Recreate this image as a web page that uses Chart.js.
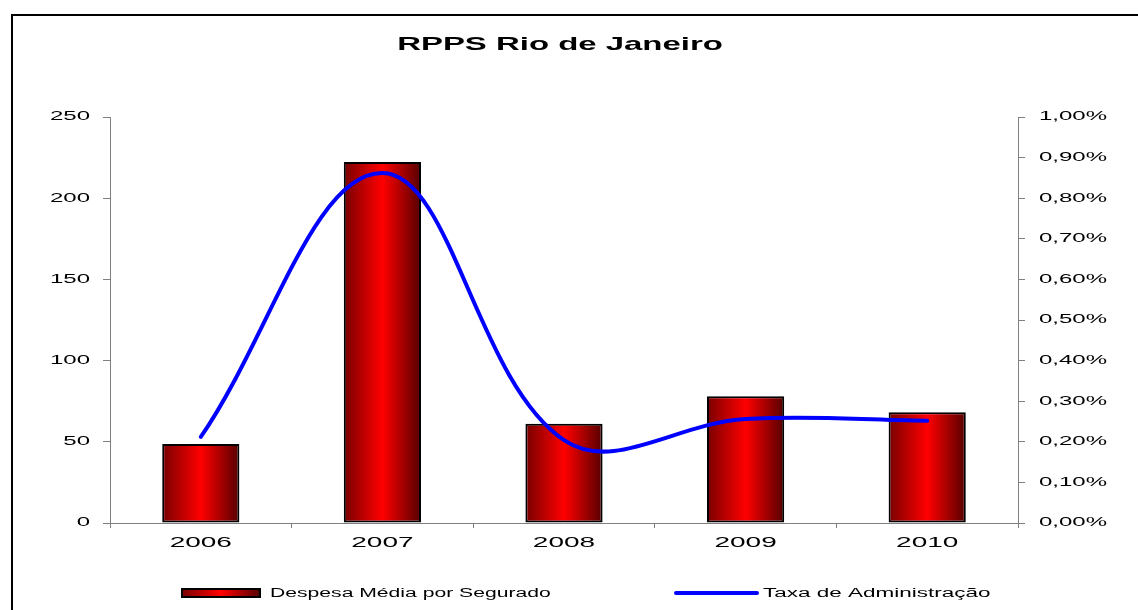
<!DOCTYPE html>
<html>
<head>
<meta charset="utf-8">
<script src="https://cdn.jsdelivr.net/npm/chart.js@4.4.0/dist/chart.umd.min.js"></script>
<style>
  body { margin: 0; background: #fff; }
  canvas { display: block; }
</style>
</head>
<body>
<canvas id="rpps" width="1138" height="610"></canvas>
<script>
var anos = ["2006", "2007", "2008", "2009", "2010"];
var despesa = [48.6, 222.3, 61.1, 78, 68.2];
var taxa = [0.212, 0.862, 0.204, 0.256, 0.252];
var escalaDespesa = [0, 250, 50];
var escalaTaxa = [0, 1, 0.1];

var barPct = 0.425;
var escalaTexto = 2.0;
var fonte = "'Liberation Sans', Arial, sans-serif";

function gradienteBarra(ctx, x0, x1) {
  var g = ctx.createLinearGradient(x0, 0, x1, 0);
  g.addColorStop(0, "#780000");
  g.addColorStop(0.5, "#ff0000");
  g.addColorStop(1, "#550000");
  return g;
}

function corBarra(c) {
  var chart = c.chart;
  if (!chart.chartArea || !chart.scales.x) return "#d00000";
  var x = chart.scales.x;
  var centro = x.getPixelForValue(c.dataIndex);
  var meia = (x.width / anos.length) * barPct / 2;
  return gradienteBarra(chart.ctx, centro - meia, centro + meia);
}

function texto(ctx, t, x, y, escala, fnt, align) {
  escalaTexto = escala;
  ctx.save();
  ctx.font = fnt;
  ctx.fillStyle = "#000";
  ctx.textAlign = align;
  ctx.textBaseline = "middle";
  ctx.fillText(t, x, y);
  ctx.restore();
}

var extras = {
  id: "extras",
  beforeDraw: function (chart) {
    var ctx = chart.ctx;
    if (!ctx.fillTextOriginal) {
      ctx.fillTextOriginal = ctx.fillText;
      ctx.fillText = function (t, x, y) {
        this.save();
        this.translate(x, y);
        this.scale(escalaTexto, 1);
        this.fillTextOriginal(t, 0, 0);
        this.restore();
      };
    }
    escalaTexto = 2.0;
    // moldura do grafico
    ctx.save();
    ctx.strokeStyle = "#000";
    ctx.lineWidth = 2;
    ctx.beginPath();
    ctx.moveTo(12, 610);
    ctx.lineTo(12, 15);
    ctx.lineTo(1138, 15);
    ctx.stroke();
    ctx.restore();
  },
  afterDraw: function (chart) {
    var ctx = chart.ctx;
    texto(ctx, "RPPS Rio de Janeiro", 560, 45, 1.78, "bold 18.5px " + fonte, "center");

    // legenda
    ctx.save();
    ctx.fillStyle = gradienteBarra(ctx, 182, 260);
    ctx.fillRect(182, 589, 78, 8);
    ctx.strokeStyle = "#000";
    ctx.lineWidth = 2;
    ctx.strokeRect(182, 589, 78, 8);
    ctx.strokeStyle = "#0000ff";
    ctx.lineWidth = 4;
    ctx.lineCap = "round";
    ctx.beginPath();
    ctx.moveTo(676, 593);
    ctx.lineTo(757, 593);
    ctx.stroke();
    ctx.restore();
    var ds = chart.data.datasets;
    texto(ctx, ds[0].label, 270, 594, 1.69, "12.5px " + fonte, "left");
    texto(ctx, ds[1].label, 763, 594, 1.8, "12.5px " + fonte, "left");
  }
};

var ctx = document.getElementById("rpps");

var grafico = new Chart(ctx, {
  type: "bar",
  data: {
    labels: anos,
    datasets: [
      {
        type: "bar",
        label: "Despesa Média por Segurado",
        data: despesa,
        yAxisID: "y",
        backgroundColor: corBarra,
        borderColor: "#000",
        borderWidth: 2,
        borderSkipped: false,
        barPercentage: barPct,
        categoryPercentage: 1,
        order: 1
      },
      {
        type: "line",
        label: "Taxa de Administração",
        data: taxa,
        yAxisID: "y1",
        borderColor: "#0000ff",
        borderWidth: 4,
        borderCapStyle: "round",
        borderJoinStyle: "round",
        pointRadius: 0,
        tension: 0.38,
        fill: false,
        order: 0
      }
    ]
  },
  options: {
    responsive: false,
    animation: false,
    devicePixelRatio: 1,
    layout: { padding: { top: 117, left: 0, right: 0, bottom: 47 } },
    plugins: {
      legend: { display: false },
      title: { display: false },
      tooltip: { enabled: false }
    },
    scales: {
      x: {
        grid: { offset: true, drawOnChartArea: false, color: "#808080", tickLength: 5 },
        border: { color: "#808080", width: 1 },
        ticks: { color: "#000", font: { family: fonte, size: 14 }, padding: 7, maxRotation: 0 },
        afterFit: function (s) { s.height = 40; }
      },
      y: {
        position: "left",
        min: escalaDespesa[0],
        max: escalaDespesa[1],
        grid: { drawOnChartArea: false, color: "#808080", tickLength: 7 },
        border: { color: "#808080", width: 1 },
        ticks: { stepSize: escalaDespesa[2], color: "#000", font: { family: fonte, size: 12 }, padding: 13 },
        afterFit: function (s) { s.width = 110; }
      },
      y1: {
        position: "right",
        min: escalaTaxa[0],
        max: escalaTaxa[1],
        grid: { drawOnChartArea: false, color: "#808080", tickLength: 7 },
        border: { color: "#808080", width: 1 },
        ticks: {
          stepSize: escalaTaxa[2],
          color: "#000",
          font: { family: fonte, size: 12 },
          padding: 14,
          callback: function (v) { return v.toFixed(2).replace(".", ",") + "%"; }
        },
        afterFit: function (s) { s.width = 120; }
      }
    }
  },
  plugins: [extras]
});
</script>
</body>
</html>
